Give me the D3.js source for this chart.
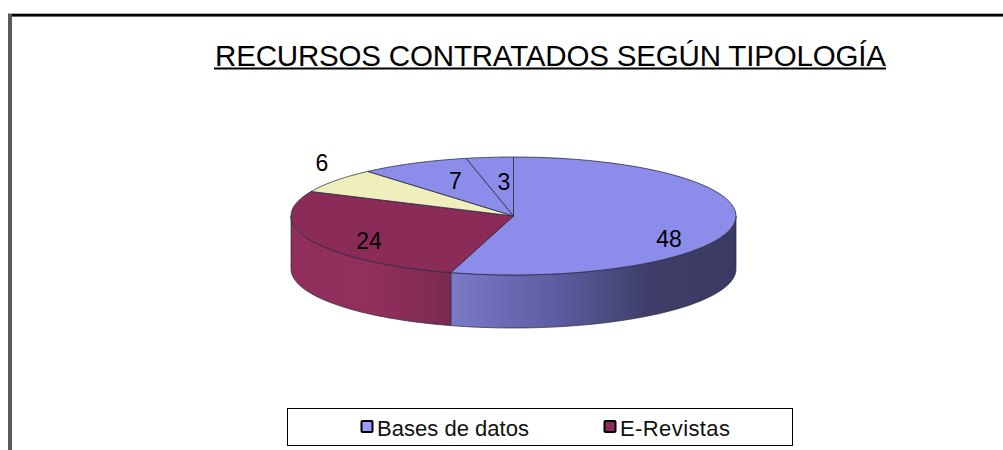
<!DOCTYPE html>
<html><head><meta charset="utf-8">
<script src="https://cdn.jsdelivr.net/npm/d3@7"></script>
<style>html,body{margin:0;background:#fff;overflow:hidden}svg{display:block;font-family:"Liberation Sans",Arial,sans-serif}</style>
</head><body><svg id="c" width="1003" height="450"></svg>
<script>
const titleText = "RECURSOS CONTRATADOS SEGÚN TIPOLOGÍA";
const sliceValues = [48, 24, 6, 7, 3];
const sliceColors = ["#8c8ceb", "#8b2c58", "#efefbe", "#8c8ceb", "#8c8ceb"];
const legendLabels = ["Bases de datos", "E-Revistas"];
const legendColors = ["#9a9aff", "#8b2c58"];

const W = 1003, H = 450;
const cx = 513.5, cy = 216, rx = 222.5, ry = 59, depth = 53;
const svg = d3.select("#c");
const defs = svg.append("defs");
const mkGrad = (id, stops) => {
  const g = defs.append("linearGradient").attr("id", id);
  stops.forEach(([o, c]) => g.append("stop").attr("offset", o).attr("stop-color", c));
};
mkGrad("wallBlue", [[0, "#7a7ac8"], [0.35, "#5e5ea4"], [0.7, "#3e3e68"], [1, "#3a3a62"]]);
mkGrad("wallRed", [[0, "#8f2e5b"], [0.5, "#922f5d"], [1, "#7a2a50"]]);

// frame
svg.append("rect").attr("x", 8).attr("y", 13).attr("width", W - 8).attr("height", 4).attr("fill", "#b0b0b0");
svg.append("rect").attr("x", 8).attr("y", 14).attr("width", W - 8).attr("height", 2.4).attr("fill", "#000");
svg.append("rect").attr("x", 8).attr("y", 14).attr("width", 4).attr("height", H - 14).attr("fill", "#5a5a5a");

// title
svg.append("text").attr("x", 215).attr("y", 66).attr("font-size", 29.5)
  .attr("textLength", 671).attr("lengthAdjust", "spacing")
  .attr("fill", "#000").text(titleText);
svg.append("rect").attr("x", 214).attr("y", 67.5).attr("width", 672).attr("height", 2).attr("fill", "#000");

// pie
const arcs = d3.pie().value(d => d).sort(null)(sliceValues);
const px = a => cx + rx * Math.sin(a), py = a => cy - ry * Math.cos(a);
const samples = (a0, a1) => d3.range(0, 61).map(i => a0 + (a1 - a0) * i / 60);
const line = d3.line();

// side walls (front half only)
const wallLayer = svg.append("g");
arcs.forEach((d, i) => {
  const a0 = Math.max(d.startAngle, Math.PI / 2), a1 = Math.min(d.endAngle, 3 * Math.PI / 2);
  if (a1 <= a0) return;
  const upper = samples(a0, a1).map(a => [px(a), py(a)]);
  const lower = samples(a1, a0).map(a => [px(a), py(a) + depth]);
  wallLayer.append("path").attr("d", line(upper.concat(lower)) + "Z")
    .attr("fill", i === 0 ? "url(#wallBlue)" : "url(#wallRed)")
    .attr("stroke", "#2a2a40").attr("stroke-width", 0.7);
});

// top faces
const faceLayer = svg.append("g");
arcs.forEach((d, i) => {
  const pts = [[cx, cy]].concat(samples(d.startAngle, d.endAngle).map(a => [px(a), py(a)]));
  faceLayer.append("path").attr("d", line(pts) + "Z")
    .attr("fill", sliceColors[i]).attr("stroke", "#2a2a40").attr("stroke-width", 0.8);
});

// data labels
const labelOffsets = [[155.5, 31], [-144.5, 33], [-191.5, -45], [-58, -27], [-9.5, -26]];
svg.append("g").selectAll("text").data(sliceValues).join("text")
  .attr("x", (d, i) => cx + labelOffsets[i][0])
  .attr("y", (d, i) => cy + labelOffsets[i][1])
  .attr("text-anchor", "middle").attr("font-size", 23).attr("fill", "#000").text(d => d);

// legend
svg.append("rect").attr("x", 287.5).attr("y", 408.5).attr("width", 505).attr("height", 37)
  .attr("fill", "#fff").attr("stroke", "#000").attr("stroke-width", 1);
const legendX = d3.scalePoint().domain(legendLabels).range([361, 604]);
const lg = svg.append("g").selectAll("g").data(legendLabels).join("g")
  .attr("transform", d => `translate(${legendX(d)},420.5)`);
lg.append("rect").attr("x", 0.5).attr("y", 0.5).attr("width", 11).attr("height", 11).attr("rx", 1)
  .attr("fill", (d, i) => legendColors[i]).attr("stroke", "#000").attr("stroke-width", 2);
lg.append("text").attr("x", 16).attr("y", 15.5).attr("font-size", 22)
  .attr("textLength", (d, i) => i === 0 ? 152 : 110).attr("lengthAdjust", "spacing")
  .attr("fill", "#111").text(d => d);
</script></body></html>
